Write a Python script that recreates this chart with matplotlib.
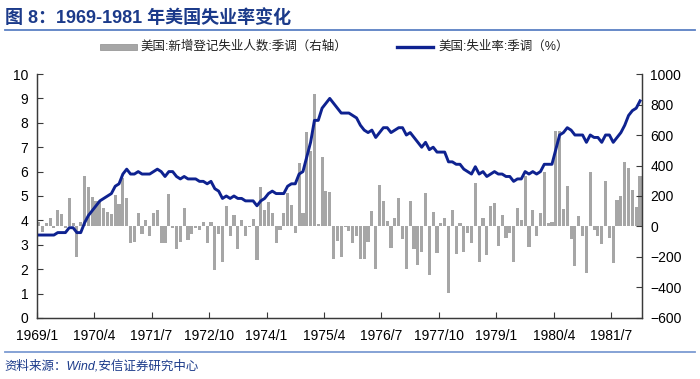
import matplotlib
matplotlib.use("Agg")
import matplotlib.pyplot as plt
import numpy as np
from matplotlib.lines import Line2D
from matplotlib.patches import Rectangle

plt.rcParams['font.family'] = ['Liberation Sans', 'Noto Sans CJK SC', 'DejaVu Sans']

# ---------------- data ----------------
years = list(range(1969, 1983))
months = [f"{y}/{m}" for y in years for m in range(1, 13)][:158]   # 1969/1 .. 1982/2

unemp_rate = [
    3.4, 3.4, 3.4, 3.4, 3.4, 3.5, 3.5, 3.5, 3.7, 3.7, 3.5, 3.5,
    3.9, 4.2, 4.4, 4.6, 4.8, 4.9, 5.0, 5.1, 5.4, 5.5, 5.9, 6.1,
    5.9, 5.9, 6.0, 5.9, 5.9, 5.9, 6.0, 6.1, 6.0, 5.8, 6.0, 6.0,
    5.8, 5.7, 5.8, 5.7, 5.7, 5.7, 5.6, 5.6, 5.5, 5.6, 5.3, 5.2,
    4.9, 5.0, 4.9, 5.0, 4.9, 4.9, 4.8, 4.8, 4.8, 4.6, 4.8, 4.9,
    5.1, 5.2, 5.1, 5.1, 5.1, 5.4, 5.5, 5.5, 5.9, 6.0, 6.6, 7.2,
    8.1, 8.1, 8.6, 8.8, 9.0, 8.8, 8.6, 8.4, 8.4, 8.4, 8.3, 8.2,
    7.9, 7.7, 7.6, 7.7, 7.4, 7.6, 7.8, 7.8, 7.6, 7.7, 7.8, 7.8,
    7.5, 7.6, 7.4, 7.2, 7.0, 7.2, 6.9, 7.0, 6.8, 6.8, 6.8, 6.4,
    6.4, 6.3, 6.3, 6.1, 6.0, 5.9, 6.2, 5.9, 6.0, 5.8, 5.9, 6.0,
    5.9, 5.9, 5.8, 5.8, 5.6, 5.7, 5.7, 6.0, 5.9, 6.0, 5.9, 6.0,
    6.3, 6.3, 6.3, 6.9, 7.5, 7.6, 7.8, 7.7, 7.5, 7.5, 7.5, 7.2,
    7.5, 7.4, 7.4, 7.2, 7.5, 7.5, 7.2, 7.4, 7.6, 7.9, 8.3, 8.5,
    8.6, 8.9,
]

new_unemployed = [
    30, -35, 25, 55, -10, 110, 85, -10, 190, 20, -200, 30,
    328, 262, 192, 166, 165, 120, 96, 85, 205, 145, 315, 185,
    -105, -100, 90, -50, 40, -65, 90, 105, -105, -105, 210, -10,
    -145, -100, 120, -90, -50, -10, -20, 30, -105, 30, -285, -50,
    -230, 135, -65, 75, -145, 40, -65, -5, 50, -220, 260, 105,
    160, 90, -105, -20, 88, 222, 138, -45, 415, 86, 617, 496,
    870, 19, 458, 232, 223, -213, -93, -199, -5, -30, -110, -60,
    -215, -210, -100, 100, -280, 270, 170, 35, -140, 55, 190, -80,
    -280, 165, -145, -255, -165, 220, -320, 95, -175, 25, 55, -435,
    110, -180, 20, -170, -45, -110, 285, -235, 55, -185, 135, 155,
    -125, 75, -75, -40, -230, 120, 40, 330, -135, 108, -60, 90,
    360, 20, 27, 629, 626, 114, 265, -82, -262, 67, -65, -305,
    355, -20, -65, -115, 300, -75, -238, 175, 198, 420, 385, 240,
    130, 330,
]

xtick_labels = ["1969/1", "1970/4", "1971/7", "1972/10", "1974/1", "1975/4",
                "1976/7", "1977/10", "1979/1", "1980/4", "1981/7"]
left_ticks = list(range(0, 11))
right_ticks = list(range(-600, 1001, 200))

title = "图 8：1969-1981 年美国失业率变化"
legend_bar = "美国:新增登记失业人数:季调（右轴）"
legend_line = "美国:失业率:季调（%）"
source = "资料来源：Wind,安信证券研究中心"

# ---------------- styling ----------------
BAR_C = "#A6A6A6"
LINE_C = "#0E2290"
TITLE_C = "#1B3A8A"
RULE_C = "#5A80C4"
AX_C = "#3A3A3A"

fig = plt.figure(figsize=(7.0, 3.79), dpi=100)
ax = fig.add_axes([0.0524, 0.161, 0.8647, 0.6437])
ax2 = ax.twinx()

x = np.arange(len(months))
ax2.bar(x, new_unemployed, width=0.82, color=BAR_C, linewidth=0)
ax.plot(x, unemp_rate, color=LINE_C, lw=2.1, solid_joinstyle='round')

ax.set_zorder(ax2.get_zorder() + 1)
ax.patch.set_visible(False)

ax.set_xlim(-0.5, len(months) - 0.5)
ax.set_ylim(0, 10)
ax2.set_ylim(-600, 1000)
ax.set_yticks(left_ticks)
ax2.set_yticks(right_ticks)

tick_pos = [months.index(l) - 0.5 for l in xtick_labels]
ax.set_xticks(tick_pos)
ax.set_xticklabels(xtick_labels)

for a in (ax, ax2):
    a.tick_params(direction='in', length=4, width=0.8, color=AX_C,
                  labelsize=10, labelcolor='black')
    a.spines['top'].set_visible(False)
    for s in ('left', 'right', 'bottom'):
        a.spines[s].set_color(AX_C)
        a.spines[s].set_linewidth(0.9)
ax.tick_params(axis='x', pad=8)
ax.tick_params(axis='y', pad=6)
ax2.tick_params(axis='y', pad=6)

# ---------------- title, legend, source ----------------
fig.text(0.007, 0.952, title, fontsize=13, fontweight='bold', color=TITLE_C,
         va='center', ha='left', family=['Liberation Sans', 'Noto Sans CJK SC'])
fig.add_artist(Line2D([0.007, 0.993], [0.921, 0.921], transform=fig.transFigure,
                      color=RULE_C, lw=1.3))

fig.add_artist(Rectangle((0.1429, 0.867), 0.0528, 0.018, transform=fig.transFigure,
                         facecolor=BAR_C, edgecolor='#999999', lw=0.6))
fig.text(0.2, 0.876, legend_bar, fontsize=9, color='#222222', va='center', ha='left')
fig.add_artist(Line2D([0.567, 0.619], [0.876, 0.876], transform=fig.transFigure,
                      color=LINE_C, lw=2.4))
fig.text(0.626, 0.876, legend_line, fontsize=9, color='#222222', va='center', ha='left')

fig.add_artist(Line2D([0.007, 0.993], [0.071, 0.071], transform=fig.transFigure,
                      color="#7C9BD2", lw=1.3))
fig.text(0.007, 0.033, source, fontsize=9, color=TITLE_C, va='center', ha='left',
         style='italic', family=['Liberation Sans', 'Noto Sans CJK SC'])

fig.savefig("out.png", dpi=100)
